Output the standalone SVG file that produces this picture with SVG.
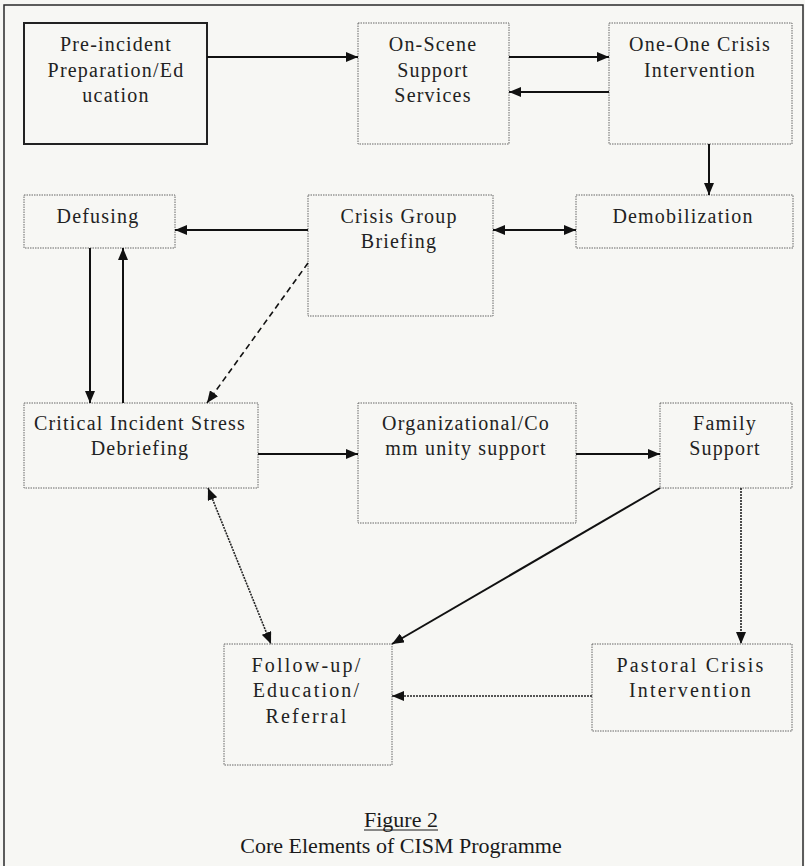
<svg xmlns="http://www.w3.org/2000/svg" width="805" height="866" viewBox="0 0 805 866">
<defs>
<style>
.bg{fill:#f7f7f4}
.frame{fill:none;stroke:#2a2a2a;stroke-width:1.5}
.solid{fill:none;stroke:#222;stroke-width:2}
.dot{fill:none;stroke:#666;stroke-width:1;stroke-dasharray:1.5 1}
.t{font-family:"Liberation Serif","Times New Roman",serif;font-size:20px;fill:#222;text-anchor:middle;letter-spacing:1.2px}
.wide{letter-spacing:2.2px}
.cap{font-family:"Liberation Serif","Times New Roman",serif;font-size:22px;fill:#1a1a1a;text-anchor:middle}
.c{fill:none;stroke:#111;stroke-width:2}
.dash{fill:none;stroke:#111;stroke-width:1.6;stroke-dasharray:6 4}
.dotted{fill:none;stroke:#222;stroke-width:1.6;stroke-dasharray:2 1}
</style>
<marker id="ah" viewBox="0 0 12 10" refX="12" refY="5" markerWidth="12" markerHeight="10" markerUnits="userSpaceOnUse" orient="auto-start-reverse">
<path d="M0,0 L12,5 L0,10 z" fill="#111"/>
</marker>
</defs>
<rect class="bg" x="0" y="0" width="805" height="866"/>
<rect class="frame" x="4" y="5" width="799" height="862"/>

<g id="n-preincident">
<rect class="solid" x="24" y="23" width="183" height="121"/>
<text class="t" x="116" y="51">Pre-incident</text>
<text class="t" x="116" y="77">Preparation/Ed</text>
<text class="t" x="116" y="102">ucation</text>
</g>
<g id="n-onscene">
<rect class="dot" x="358" y="23" width="151" height="121"/>
<text class="t" x="433" y="51">On-Scene</text>
<text class="t" x="433" y="77">Support</text>
<text class="t" x="433" y="102">Services</text>
</g>
<g id="n-oneone">
<rect class="dot" x="609" y="23" width="183" height="121"/>
<text class="t" x="700" y="51">One-One Crisis</text>
<text class="t" x="700" y="77">Intervention</text>
</g>
<g id="n-defusing">
<rect class="dot" x="24" y="195" width="151" height="53"/>
<text class="t" x="98" y="223">Defusing</text>
</g>
<g id="n-crisisgroup">
<rect class="dot" x="308" y="195" width="185" height="121"/>
<text class="t" x="399" y="223">Crisis Group</text>
<text class="t" x="399" y="248">Briefing</text>
</g>
<g id="n-demob">
<rect class="dot" x="576" y="195" width="217" height="53"/>
<text class="t" x="683" y="223">Demobilization</text>
</g>
<g id="n-cisd">
<rect class="dot" x="24" y="403" width="234" height="85"/>
<text class="t" x="140" y="430">Critical Incident Stress</text>
<text class="t" x="140" y="455">Debriefing</text>
</g>
<g id="n-org">
<rect class="dot" x="358" y="403" width="218" height="120"/>
<text class="t" x="466" y="430">Organizational/Co</text>
<text class="t" x="466" y="455">mm unity support</text>
</g>
<g id="n-family">
<rect class="dot" x="660" y="403" width="132" height="85"/>
<text class="t" x="725" y="430">Family</text>
<text class="t" x="725" y="455">Support</text>
</g>
<g id="n-followup">
<rect class="dot" x="224" y="644" width="168" height="121"/>
<text class="t wide" x="307" y="672">Follow-up/</text>
<text class="t wide" x="307" y="697">Education/</text>
<text class="t wide" x="307" y="723">Referral</text>
</g>
<g id="n-pastoral">
<rect class="dot" x="592" y="644" width="200" height="87"/>
<text class="t wide" x="691" y="672">Pastoral Crisis</text>
<text class="t wide" x="691" y="697">Intervention</text>
</g>

<g id="connectors">
<path class="c" d="M207,57 H358" marker-end="url(#ah)"/>
<path class="c" d="M509,57 H609" marker-end="url(#ah)"/>
<path class="c" d="M609,92 H509" marker-end="url(#ah)"/>
<path class="c" d="M709,144 V195" marker-end="url(#ah)"/>
<path class="c" d="M308,230 H175" marker-end="url(#ah)"/>
<path class="c" d="M493,230 H576" marker-start="url(#ah)" marker-end="url(#ah)"/>
<path class="c" d="M90,248 V403" marker-end="url(#ah)"/>
<path class="c" d="M123,403 V248" marker-end="url(#ah)"/>
<path class="dash" d="M308,263 L207,403" marker-end="url(#ah)"/>
<path class="c" d="M258,454 H358" marker-end="url(#ah)"/>
<path class="c" d="M576,454 H660" marker-end="url(#ah)"/>
<path class="c" d="M660,488 L392,644" marker-end="url(#ah)"/>
<path class="dotted" d="M741,488 V644" marker-end="url(#ah)"/>
<path class="dotted" d="M592,696 H392" marker-end="url(#ah)"/>
<path class="dotted" d="M208,488 L271,644" marker-start="url(#ah)" marker-end="url(#ah)"/>
</g>

<g id="caption">
<text class="cap" x="401" y="827">Figure 2</text>
<line x1="364" y1="830" x2="438" y2="830" stroke="#1a1a1a" stroke-width="1"/>
<text class="cap" x="401" y="853">Core Elements of CISM Programme</text>
</g>
</svg>
